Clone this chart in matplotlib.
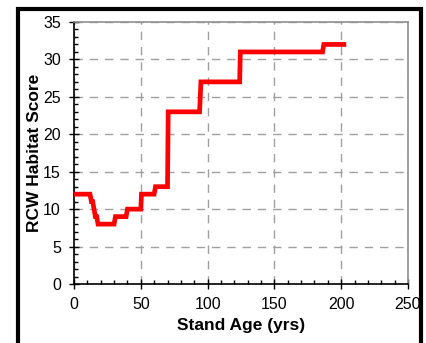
import matplotlib
matplotlib.use('Agg')
import matplotlib.pyplot as plt
from matplotlib.patches import Rectangle
from matplotlib.ticker import MultipleLocator

# stand age (yrs) vs RCW habitat score
ages = [0, 12, 13, 14, 15, 16, 17, 18, 30, 31, 39, 40, 50, 50.5, 60, 61,
        70, 70.5, 94, 95, 124, 124.5, 186, 187, 202]
scores = [12, 12, 11, 11, 10, 9, 9, 8, 8, 9, 9, 10, 10, 12, 12, 13,
          13, 23, 23, 27, 27, 31, 31, 32, 32]

x_ticks = [0, 50, 100, 150, 200, 250]
y_ticks = [0, 5, 10, 15, 20, 25, 30, 35]

plt.rcParams['font.family'] = ['Liberation Sans', 'DejaVu Sans']

fig = plt.figure(figsize=(4.27, 3.43), dpi=100)
ax = fig.add_axes([0.1733, 0.172, 0.7822, 0.7639])

ax.plot(ages, scores, color='#ff0000', lw=3.4, solid_joinstyle='miter', zorder=3)

ax.set_xlim(0, 250)
ax.set_ylim(0, 35)
ax.set_xticks(x_ticks)
ax.set_yticks(y_ticks)
ax.xaxis.set_minor_locator(MultipleLocator(10))
ax.yaxis.set_minor_locator(MultipleLocator(1))
ax.tick_params(which='major', direction='inout', length=7, width=1, labelsize=11.5, pad=6)
ax.tick_params(which='minor', direction='in', length=3, width=1)

ax.grid(True, which='major', color='#a0a0a0', ls=(0, (6, 5)), lw=1)
ax.set_axisbelow(True)
for side in ['top', 'right']:
    ax.spines[side].set_color('#909090')
    ax.spines[side].set_linewidth(1.2)
for side in ['left', 'bottom']:
    ax.spines[side].set_linewidth(1.2)

ax.set_xlabel('Stand Age (yrs)', fontsize=12.5, fontweight='bold', labelpad=4)
ax.set_ylabel('RCW Habitat Score', fontsize=12.5, fontweight='bold', labelpad=1)

# thick black outer frame, running off the bottom of the image
frame = Rectangle((0.042, -0.2), 0.945, 1.174, transform=fig.transFigure,
                  fill=False, edgecolor='black', lw=3, zorder=10)
fig.patches.append(frame)

fig.savefig('out.png', dpi=100)
